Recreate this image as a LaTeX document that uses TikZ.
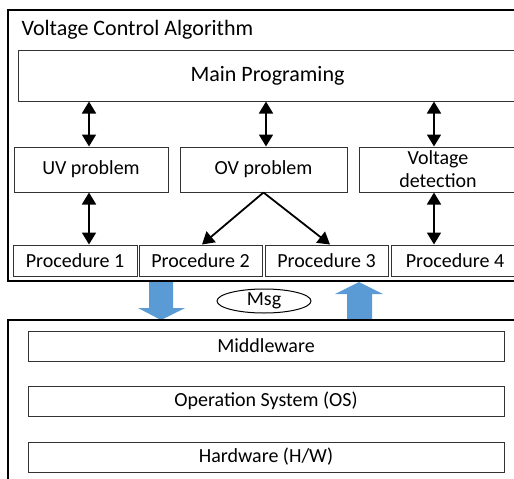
\documentclass[tikz,border=0pt]{standalone}
\usepackage{fontspec}
\setmainfont{Carlito}
\usetikzlibrary{arrows.meta,shapes.geometric,positioning}
\definecolor{msgblue}{HTML}{5B9BD5}

\begin{document}
\begin{tikzpicture}[x=1pt, y=-1pt,
  every node/.style={font=\fontsize{20}{23}\selectfont},
  layer/.style={draw=black, line width=2pt},
  box/.style={draw=black!80, line width=1pt, inner sep=0pt, align=center},
  link/.style={line width=1.8pt, {Triangle[width=14pt,length=12pt]}-{Triangle[width=14pt,length=12pt]}},
  split/.style={line width=1.8pt, -{Triangle[width=14pt,length=12pt]}},
  bigarrow/.style={fill=msgblue}]
\useasboundingbox (0,0) rectangle (514,479);

% algorithm layer
\draw[layer] (8,10) rectangle (530,281);
\node[anchor=west, font=\fontsize{22}{26}\selectfont] (title) at (18,30) {Voltage Control Algorithm};
\node[box, font=\fontsize{22}{26}\selectfont, minimum width=499pt, minimum height=51pt] (main) at (267.5,75.5) {Main Programing};

\node[box, minimum width=154pt, minimum height=45pt] (uv) at (91,169.5) {UV problem};
\node[box, minimum width=167pt, minimum height=45pt] (ov) at (263.5,169.5) {OV problem};
\node[box, minimum width=158pt, minimum height=45pt] (vd) at (438,169.5) {Voltage\\detection};

\node[box, minimum width=124pt, minimum height=31pt] (p1) at (75,260.5) {Procedure 1};
\node[box, minimum width=123pt, minimum height=31pt] (p2) at (200.5,260.5) {Procedure 2};
\node[box, minimum width=123pt, minimum height=31pt] (p3) at (326.5,260.5) {Procedure 3};
\node[box, minimum width=128pt, minimum height=31pt] (p4) at (455,260.5) {Procedure 4};

\draw[link] ([xshift=-2pt]uv.north) -- ([xshift=-2pt]uv.north |- main.south);
\draw[link] ([xshift=2.5pt]ov.north) -- ([xshift=2.5pt]ov.north |- main.south);
\draw[link] ([xshift=-4pt]vd.north) -- ([xshift=-4pt]vd.north |- main.south);
\draw[link] ([xshift=-2pt]uv.south) -- ([xshift=-2pt]uv.south |- p1.north);
\draw[link] ([xshift=-4pt]vd.south) -- ([xshift=-4pt]vd.south |- p4.north);
\draw[split] (ov.south) -- ([xshift=1.5pt]p2.north);
\draw[split] (ov.south) -- ([xshift=3.5pt]p3.north);

% messages
\fill[bigarrow] (149,282) -- (173,282) -- (173,308) -- (185,308) -- (161,320) -- (138,308) -- (149,308) -- cycle;
\fill[bigarrow] (347,320) -- (372,320) -- (372,294) -- (383,294) -- (359,282) -- (335,294) -- (347,294) -- cycle;
\node[draw, ellipse, line width=1pt, minimum width=94pt, minimum height=24pt, inner sep=0pt] (msg) at (264,301) {Msg};

% platform layer
\draw[layer] (8,320) rectangle (530,500);
\node[box, minimum width=476pt, minimum height=30pt] (mw) at (266,346) {Middleware};
\node[box, minimum width=476pt, minimum height=30pt] (os) at (266,401) {Operation System (OS)};
\node[box, minimum width=476pt, minimum height=30pt] (hw) at (266,457) {Hardware (H/W)};
\end{tikzpicture}
\end{document}
